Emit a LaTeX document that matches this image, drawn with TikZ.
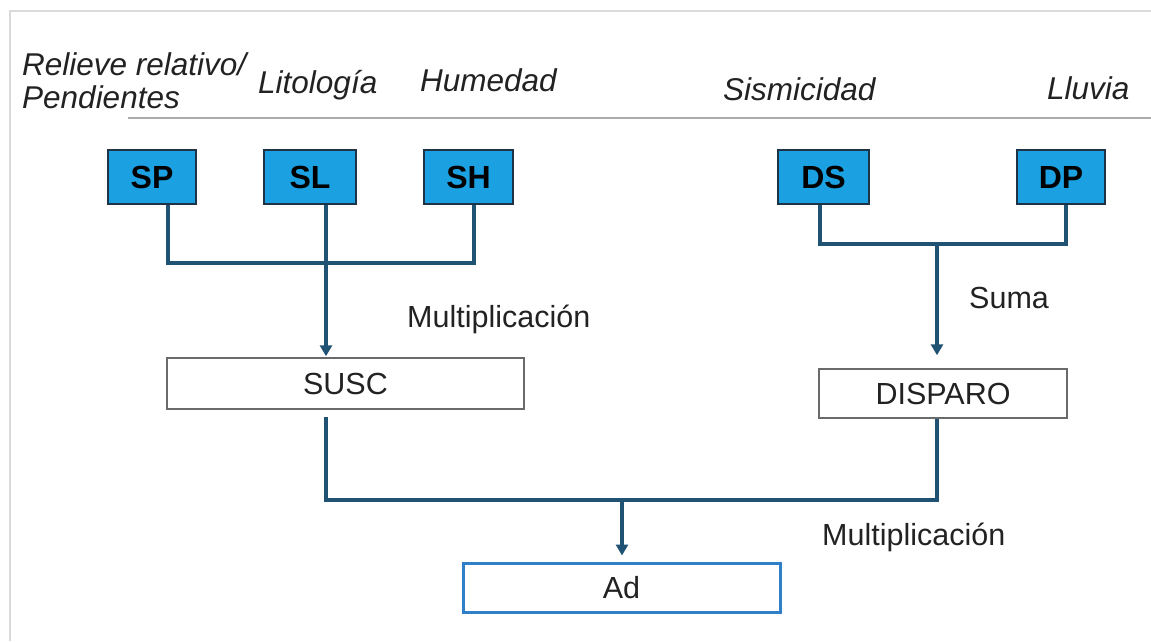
\documentclass[tikz,border=0pt]{standalone}
\usepackage{fontspec}
\setmainfont{Liberation Sans}
\usetikzlibrary{arrows.meta}
\definecolor{boxblue}{HTML}{1BA1E2}
\definecolor{boxedge}{HTML}{1F3347}
\definecolor{conncol}{HTML}{1F5273}
\definecolor{txt}{HTML}{222222}
\definecolor{rulegray}{HTML}{ABABAB}
\definecolor{framegray}{HTML}{DADADA}
\definecolor{adblue}{HTML}{2F80C8}
\definecolor{wedge}{HTML}{6A6A6A}
\tikzset{
  lab/.style={inner sep=0pt, anchor=base west, text=txt, font=\fontsize{31.5}{34}\selectfont\itshape},
  oplab/.style={inner sep=0pt, anchor=base west, text=txt, font=\fontsize{30.5}{33}\selectfont},
  bluebox/.style={draw=boxedge, line width=2pt, fill=boxblue, minimum height=54pt, inner sep=0pt,
    text=black, font=\fontsize{32}{34}\selectfont\bfseries},
  whitebox/.style={draw=wedge, line width=1.5pt, fill=white, inner sep=0pt, minimum height=50pt,
    text=txt, font=\fontsize{30.5}{33}\selectfont},
  conn/.style={draw=conncol, line width=3.2pt},
  arr/.style={conn, -{Triangle[width=12pt,length=11pt]}},
}
\begin{document}
\begin{tikzpicture}[x=1pt,y=-1pt]
\useasboundingbox (0,0) rectangle (1151,641);
\fill[white] (0,0) rectangle (1151,641);
% frame
\draw[framegray, line width=2pt] (10,641) -- (10,11) -- (1151,11);
% rule under headings
\draw[rulegray, line width=2.5pt] (128,118) -- (1151,118);

% headings
\node[lab] (lrel) at (22,75) {Relieve relativo/};
\node[lab] (lpen) at (22,108) {Pendientes};
\node[lab] (llit) at (258,93) {Litología};
\node[lab] (lhum) at (420,91) {Humedad};
\node[lab] (lsis) at (723,100) {Sismicidad};
\node[lab] (llluv) at (1047,99) {Lluvia};

% input boxes
\node[bluebox, minimum width=88pt] (SP) at (152,177) {SP};
\node[bluebox, minimum width=92pt] (SL) at (310,177) {SL};
\node[bluebox, minimum width=89pt] (SH) at (468.5,177) {SH};
\node[bluebox, minimum width=91pt] (DS) at (823.5,177) {DS};
\node[bluebox, minimum width=88pt] (DP) at (1061,177) {DP};

% intermediate / result boxes
\node[whitebox, minimum width=357pt, minimum height=51pt] (SUSC) at (345.5,383.5) {SUSC};
\node[whitebox, minimum width=248pt, minimum height=49pt] (DISP) at (943,393.5) {DISPARO};
\node[whitebox, draw=adblue, line width=3pt, minimum width=317pt, minimum height=49pt] (Ad) at (621.5,587.5) {Ad};

% operation labels
\node[oplab] (m1) at (407,327) {Multiplicación};
\node[oplab] (suma) at (969,308) {Suma};
\node[oplab] (m2) at (822,545) {Multiplicación};

% susceptibility branch
\coordinate (spb) at ([xshift=16pt]SP.south);
\coordinate (slb) at ([xshift=16pt]SL.south);
\coordinate (shb) at ([xshift=5.5pt]SH.south);
\coordinate (sbar) at (326,263);
\draw[conn] (spb) |- (sbar) -| (shb);
\draw[arr] (slb) -- ([yshift=1pt]slb |- SUSC.north);

% trigger branch
\coordinate (dsb) at ([xshift=-3.5pt]DS.south);
\coordinate (dpb) at ([xshift=5pt]DP.south);
\coordinate (dbar) at (937,244);
\draw[conn] (dsb) |- (dbar) -| (dpb);
\draw[arr] (dbar) -- ([yshift=13pt]dbar |- DISP.north);

% final combination
\coordinate (susb) at (326,417);
\coordinate (disb) at (dbar |- DISP.south);
\coordinate (fbar) at (622,500);
\draw[conn] (susb) |- (fbar) -| (disb);
\draw[arr] (fbar) -- ([yshift=6pt]fbar |- Ad.north);
\end{tikzpicture}
\end{document}
